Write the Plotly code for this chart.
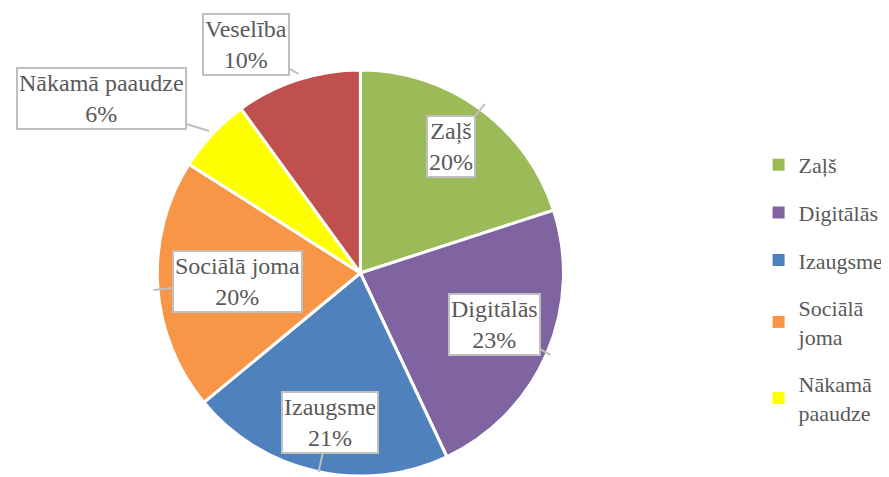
import plotly.graph_objects as go

W, H = 889, 477
OFF = 8  # page body margin of the html page
FW, FH = W - OFF, H - OFF

categories = ["Zaļš", "Digitālās", "Izaugsme", "Sociālā joma", "Nākamā paaudze", "Veselība"]
values = [20, 23, 21, 20, 6, 10]
colors = ["#9BBB59", "#8064A2", "#4F81BD", "#F79646", "#FFFF00", "#C0504D"]
legend_labels = ["Zaļš", "Digitālās", "Izaugsme", "Sociālā<br>joma", "Nākamā<br>paaudze"]

# callout placement (screen pixels): tip of pointer and box centre
callouts = {
    "Zaļš": ((487, 104), (453, 146)),
    "Digitālās": ((553, 355), (497, 324)),
    "Izaugsme": ((320, 472), (331, 422)),
    "Sociālā joma": ((154, 290), (238, 281)),
    "Nākamā paaudze": ((210, 131), (102, 98)),
    "Veselība": ((300, 74), (247, 44)),
}

FONT = "Liberation Serif, Times New Roman, serif"
TXT = "#595959"


def px(x):
    return (x - OFF) / FW


def py(y):
    return 1 - (y - OFF) / FH


fig = go.Figure()

R = 204
cx, cy = 362, 273
fig.add_trace(go.Pie(
    labels=categories, values=values, sort=False, direction="clockwise", rotation=0,
    marker=dict(colors=colors, line=dict(color="white", width=3)),
    textinfo="none", showlegend=False,
    domain=dict(x=[px(cx - R), px(cx + R)], y=[max(0, py(cy + R)), py(cy - R)]),
))

for name, lab, col in zip(categories, legend_labels, colors):
    fig.add_trace(go.Scatter(
        x=[None], y=[None], mode="markers", name=lab,
        marker=dict(symbol="square", size=9, color=col), legendgroup=name,
    ))

total = sum(values)
for name, v in zip(categories, values):
    (tx, ty), (bx, by) = callouts[name]
    fig.add_annotation(
        xref="paper", yref="paper", x=px(tx), y=py(ty),
        ax=bx - tx, ay=by - ty,
        text=f"{name}<br>{round(100 * v / total)}%",
        showarrow=True, arrowhead=0, arrowwidth=2, arrowcolor="#BFBFBF",
        font=dict(family=FONT, size=24, color=TXT),
        bgcolor="white", bordercolor="#BFBFBF", borderwidth=2, borderpad=1,
        align="center",
    )

fig.update_layout(
    width=FW, height=FH,
    margin=dict(l=0, r=0, t=0, b=0),
    font=dict(family=FONT, color=TXT),
    paper_bgcolor="white", plot_bgcolor="white",
    xaxis=dict(visible=False), yaxis=dict(visible=False),
    legend=dict(
        x=px(762), y=py(144), xanchor="left", yanchor="top",
        font=dict(family=FONT, size=22, color=TXT),
        traceorder="grouped", tracegroupgap=16, itemsizing="constant",
        bgcolor="rgba(0,0,0,0)",
    ),
)

fig.write_html("out.html")
